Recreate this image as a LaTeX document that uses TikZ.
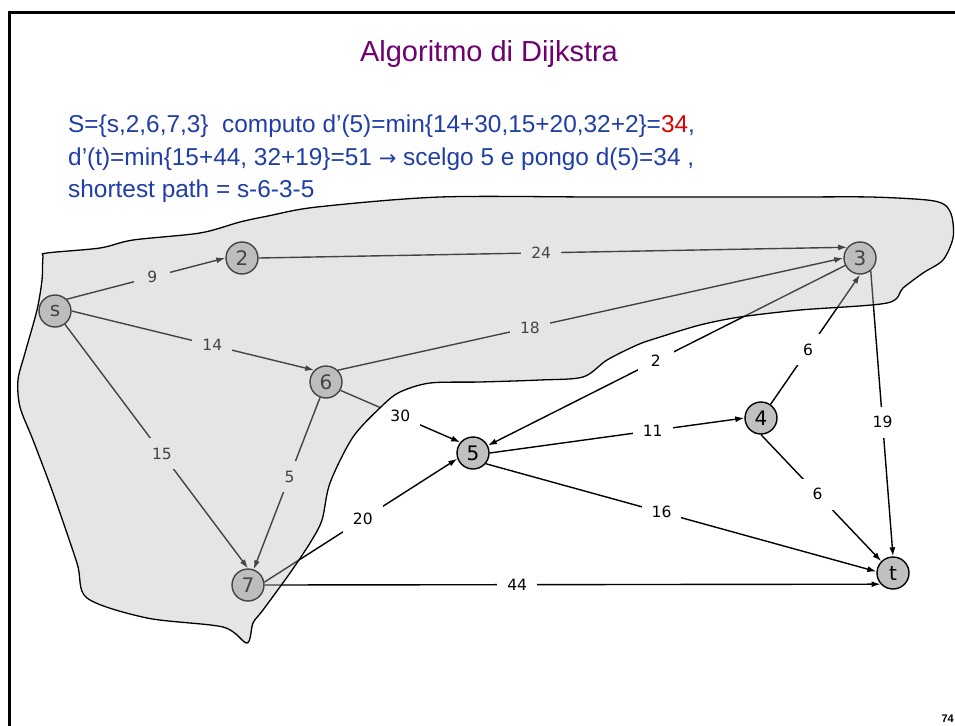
\documentclass[tikz,border=0pt]{standalone}
\usepackage{fontspec}
\setmainfont{Liberation Sans}
\newfontfamily\lblfont{DejaVu Sans}
\usetikzlibrary{arrows.meta}
\definecolor{txtblue}{RGB}{31,62,168}
\definecolor{ttlpurple}{RGB}{112,0,112}
\definecolor{numred}{RGB}{220,0,0}
\definecolor{nodegray}{RGB}{192,192,192}
\definecolor{blobgray}{RGB}{186,186,186}
\begin{document}
\begin{tikzpicture}[x=1pt,y=-1pt,
  vtx/.style={circle, draw=black, line width=1.4pt, fill=nodegray, minimum size=32pt, inner sep=0pt, font=\lblfont\fontsize{20}{20}\selectfont},
  edge/.style={-{Latex[length=9pt,width=6pt]}, line width=1.4pt, draw=black},
  wt/.style={fill=white, inner xsep=10pt, inner ysep=0pt, minimum width=36pt, minimum height=31pt, text=black, font=\lblfont\fontsize{15.5}{15.5}\selectfont, pos=#1},
  wt/.default=0.5,
  bodytxt/.style={anchor=base west, text=txtblue, font=\fontsize{24.4}{26}\selectfont, inner sep=0pt}]
\useasboundingbox (0,0) rectangle (955,725);
\clip (0,0) rectangle (955,725);
\fill[white] (0,0) rectangle (955,725);
% frame
\draw[line width=3pt] (9.5,13) rectangle (975,745);
% title and text
\node[anchor=base, text=ttlpurple, font=\fontsize{29}{30}\selectfont, inner sep=0pt] (title) at (489,62) {Algoritmo di Dijkstra};
\node[bodytxt] (l1) at (68,132) {S=\{s,2,6,7,3\}\ \ computo d'(5)=min\{14+30,15+20,32+2\}=\textcolor{numred}{34},};
\node[bodytxt] (l2) at (68,165) {d'(t)=min\{15+44, 32+19\}=51 {\lblfont\fontsize{21}{21}\selectfont →} scelgo 5 e pongo d(5)=34 ,};
\node[bodytxt] (l3) at (68,197) {shortest path = s-6-3-5};
\node[anchor=base east, font=\fontsize{11}{11}\selectfont\bfseries, inner sep=0pt] (pg) at (954,722) {74};
% vertices
\node[vtx] (s) at (55,311) {s};
\node[vtx] (n2) at (242,258) {2};
\node[vtx] (n3) at (860,258) {3};
\node[vtx] (n6) at (326,382) {6};
\node[vtx] (n5) at (473,453) {5};
\node[vtx] (n4) at (761,418) {4};
\node[vtx] (n7) at (248,585) {7};
\node[vtx] (t) at (893,573) {t};
% edges
\draw[edge] (s.45) -- node[wt=0.54] {9} (n2.west);
\draw[edge] (s.east) -- node[wt=0.58] {14} (n6.135);
\draw[edge] (s) -- node[wt=0.53] {15} (n7.north);
\draw[edge] (n2.east) -- node[wt=0.48] {24} (n3.140);
\draw[edge] (n6.45) -- node[wt=0.38] {18} (n3.west);
\draw[edge] (n6) -- node[wt=0.46] {5} (n7.70);
\draw[edge] (n6.-30) -- node[wt=0.5] {30} (n5.140);
\draw[edge] (n7.10) -- node[wt=0.51] {20} (n5.200);
\draw[edge] (n7.east) -- node[wt=0.41] {44} (t.-138);
\draw[edge] (n3) -- node[wt=0.53] {2} (n5);
\draw[edge] (n4.55) -- node[wt=0.42] {6} (n3.south);
\draw[edge] (n5.east) -- node[wt=0.64] {11} (n4.west);
\draw[edge] (n5.-40) -- node[wt=0.45] {16} (t.175);
\draw[edge] (n4.south) -- node[wt=0.47] {6} (t.135);
\draw[edge] (n3.-50) -- node[wt=0.53] {19} (t.north);
% shaded region (overlay)
\path[fill=blobgray, fill opacity=0.365, draw=black, draw opacity=1, line width=1.3pt]
  plot[smooth cycle, tension=0.5] coordinates {
  (47,253) (100,248) (133,240) (200,233) (240,222) (268,216) (317,207) (440,197)
  (600,197) (787,197) (870,197) (927,200) (945,205) (952,217) (953,238) (943,260)
  (923,273) (903,288) (887,303) (800,310) (740,317) (700,325) (657,338) (637,345)
  (607,360) (583,377) (540,380) (480,382) (430,383) (400,392) (383,405) (353,437)
  (330,483) (322,520) (310,543) (290,573) (263,610) (253,623) (247,643) (223,627)
  (147,618) (87,598) (77,563) (53,493) (33,440) (20,407) (18,380) (25,353)
  (37,310) (42,280) (43,257)};
\end{tikzpicture}
\end{document}
